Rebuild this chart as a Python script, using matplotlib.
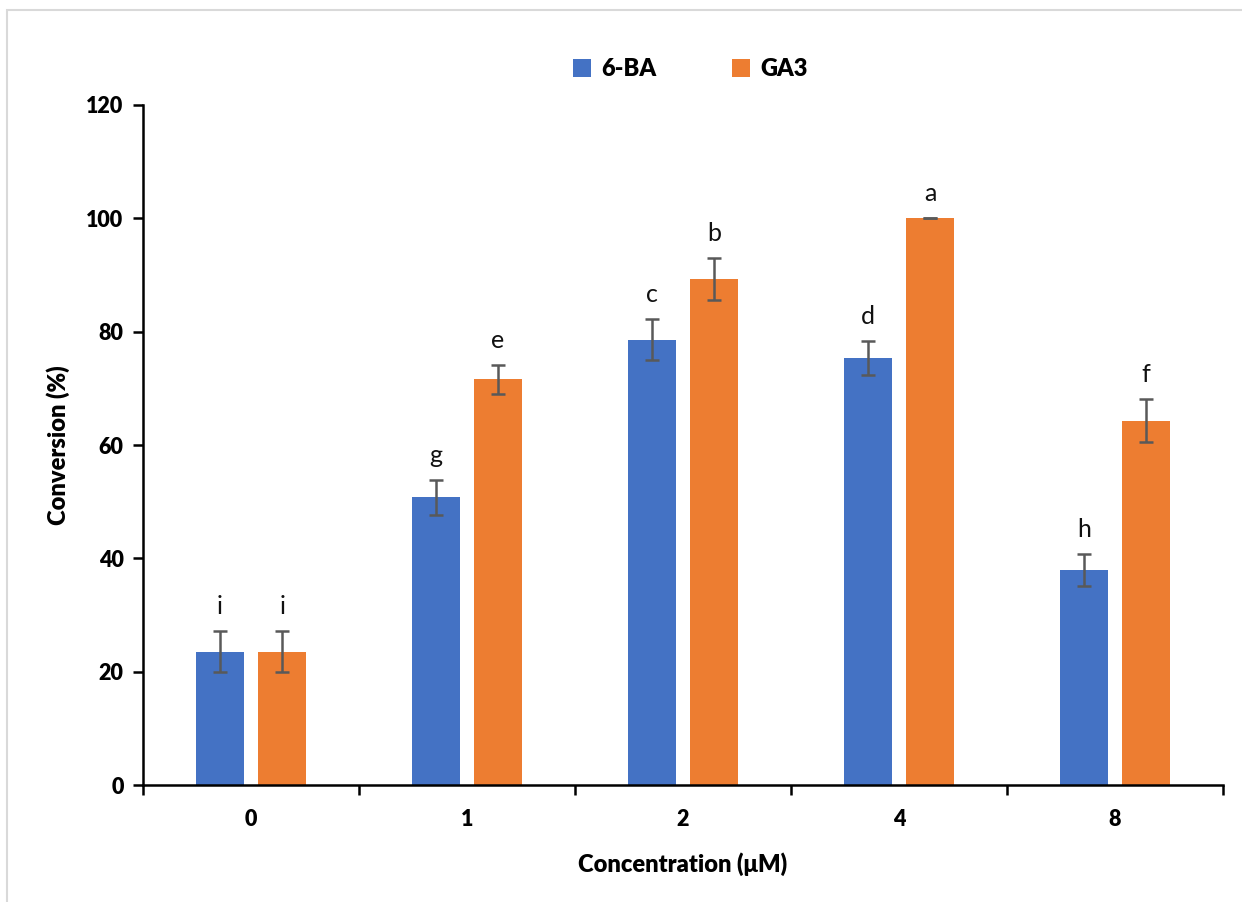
import numpy as np
import matplotlib
matplotlib.use("Agg")
import matplotlib.pyplot as plt
from matplotlib.patches import Rectangle

plt.rcParams["font.family"] = ["Lato", "DejaVu Sans"]

# data
concentrations = ["0", "1", "2", "4", "8"]
ba_mean = [23.5, 50.8, 78.6, 75.4, 38.0]
ba_err = [3.6, 3.1, 3.6, 3.0, 2.8]
ga_mean = [23.5, 71.6, 89.3, 100.0, 64.3]
ga_err = [3.6, 2.6, 3.7, 0.0, 3.8]
ba_letters = ["i", "g", "c", "d", "h"]
ga_letters = ["i", "e", "b", "a", "f"]

blue = "#4472C4"
orange = "#ED7D31"
err_col = "#595959"

fig = plt.figure(figsize=(12.42, 9.02), dpi=100)
ax = fig.add_axes([0.1151, 0.1297, 0.8696, 0.7539])

# light frame like the original screenshot
fig.patches.append(Rectangle((0.0056, -0.1), 1.2, 1.0 - 0.011 + 0.1,
                             transform=fig.transFigure, fill=False,
                             edgecolor="#d9d9d9", linewidth=1.5))

x = np.arange(len(concentrations))
off = 0.144
w = 0.222
ekw = dict(ecolor=err_col, elinewidth=1.8, capsize=5, capthick=1.8)
ax.bar(x - off, ba_mean, w, color=blue, label="6-BA", yerr=ba_err, error_kw=ekw, zorder=2)
ax.bar(x + off, ga_mean, w, color=orange, label="GA3", yerr=ga_err, error_kw=ekw, zorder=2)

# significance letters
for i in range(len(x)):
    ax.text(x[i] - off, ba_mean[i] + ba_err[i] + 3.0, ba_letters[i], ha="center",
            va="baseline", fontsize=18, color="#111111")
    ax.text(x[i] + off, ga_mean[i] + ga_err[i] + 3.0, ga_letters[i], ha="center",
            va="baseline", fontsize=18, color="#111111")

ax.set_xlim(-0.5, len(x) - 0.5)
ax.set_ylim(0, 120)
ax.set_yticks(np.arange(0, 121, 20))
ax.set_xticks(x)
ax.set_xticklabels(concentrations)
ax.set_xticks(np.arange(-0.5, len(x), 1.0), minor=True)
ax.tick_params(axis="x", which="major", length=0, pad=17, labelsize=15.5)
ax.tick_params(axis="x", which="minor", length=7, width=1.8, direction="out")
ax.tick_params(axis="y", length=7, width=1.8, direction="out", labelsize=15.5, pad=7)
for lab in ax.get_xticklabels() + ax.get_yticklabels():
    lab.set_fontweight("heavy")

for s in ["top", "right"]:
    ax.spines[s].set_visible(False)
for s in ["left", "bottom"]:
    ax.spines[s].set_linewidth(1.8)

ax.set_xlabel("Concentration (μM)", fontsize=17, fontweight="heavy", labelpad=16)
ax.set_ylabel("Conversion (%)", fontsize=17, fontweight="heavy", labelpad=12)

ax.legend(loc="upper center", bbox_to_anchor=(0.507, 1.1), ncol=2, frameon=False,
          prop={"weight": "heavy", "size": 17}, handlelength=0.75,
          handleheight=0.75, columnspacing=3.2, handletextpad=0.45)

fig.savefig("out.png", dpi=100, facecolor="white")
